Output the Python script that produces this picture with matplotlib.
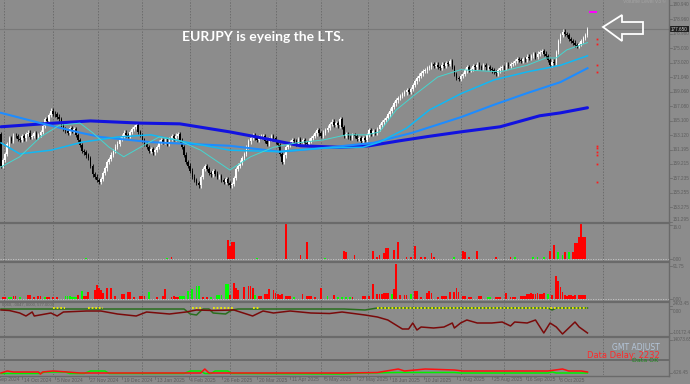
import numpy as np
import matplotlib
matplotlib.use("Agg")
import matplotlib.pyplot as plt
from matplotlib.lines import Line2D
from matplotlib.patches import Polygon
from matplotlib.transforms import blended_transform_factory as blend

W, H = 690, 384
BG = '#8c8c8c'
AXTXT = '#5e5e5e'

# ---------------- price data (daily closes) ----------------
first_open = 163.3
closes = [
    159.0, 159.8, 160.6, 161.9, 162.8, 162.4, 163.1, 163.0, 162.6, 162.5,
    163.0, 162.7, 163.3, 163.5, 162.9, 163.0, 163.4, 162.9, 163.2, 163.6,
    164.4, 165.3, 165.1, 165.9, 166.5, 166.1, 166.0, 165.7, 165.4, 164.6,
    164.0, 163.7, 163.5, 164.1, 163.8, 164.0, 163.2, 162.5, 161.8, 161.0,
    160.8, 160.4, 160.0, 158.9, 157.8, 157.5, 157.0, 156.8, 157.2, 158.0,
    158.6, 159.5, 159.9, 160.5, 161.0, 161.6, 162.0, 162.6, 163.0, 163.5,
    163.2, 163.0, 163.6, 164.0, 164.3, 164.5, 163.6, 163.2, 162.5, 162.0,
    161.5, 161.0, 161.3, 160.8, 161.1, 161.5, 162.2, 162.5, 162.2, 162.4,
    162.0, 162.6, 163.0, 162.7, 163.1, 163.3, 162.4, 161.5, 160.5, 159.5,
    159.0, 158.3, 157.5, 157.0, 156.6, 156.3, 157.4, 158.5, 158.9, 158.5,
    158.0, 157.8, 158.2, 157.9, 157.5, 157.6, 157.0, 156.8, 157.1, 156.6,
    156.3, 156.5, 157.3, 158.5, 159.0, 159.4, 160.0, 160.6, 161.5, 162.3,
    162.8, 163.2, 162.8, 162.5, 162.9, 163.0, 163.0, 162.4, 162.0, 162.6,
    163.0, 162.7, 162.2, 161.8, 160.6, 159.5, 160.4, 161.5, 161.8, 162.2,
    162.5, 162.3, 162.0, 162.6, 162.2, 162.5, 162.1, 162.0, 162.4, 162.8,
    163.0, 163.4, 163.8, 163.4, 163.0, 163.5, 163.9, 164.2, 164.7, 165.0,
    164.6, 164.8, 164.5, 165.3, 164.3, 163.0, 163.3, 162.9, 162.8, 163.2,
    163.0, 162.6, 162.8, 162.4, 162.7, 162.5, 163.2, 163.8, 163.4, 163.7,
    163.5, 164.0, 164.5, 164.9, 165.2, 165.5, 166.0, 166.5, 167.0, 167.5,
    167.9, 168.2, 168.5, 168.8, 169.0, 169.3, 169.1, 169.5, 170.0, 170.5,
    170.9, 171.3, 171.6, 171.9, 172.0, 172.3, 172.5, 172.9, 172.6, 172.8,
    172.5, 172.3, 172.8, 172.6, 173.0, 172.9, 173.3, 172.5, 171.5, 171.0,
    170.8, 171.2, 171.5, 172.0, 172.5, 172.1, 172.2, 172.6, 172.4, 172.8,
    172.5, 172.3, 172.7, 172.4, 172.5, 172.2, 172.0, 171.8, 171.6, 172.0,
    172.3, 172.5, 172.4, 172.8, 172.6, 172.9, 173.0, 173.3, 173.6, 173.4,
    173.3, 173.6, 173.5, 173.9, 173.7, 174.0, 174.2, 173.9, 174.3, 174.5,
    174.6, 174.3, 174.0, 173.4, 172.8, 173.2, 173.0, 174.5, 176.0, 176.8,
    177.3, 177.0, 176.8, 176.3, 176.0, 175.8, 175.5, 175.3, 175.6, 176.0,
    176.4, 176.8, 177.65,
]

# moving averages (bar index, value)
ma_fast_idx = [0, 9, 19, 28, 38, 44, 52, 59, 67, 76, 85, 96, 110, 120, 131, 142, 155, 166,
               176, 182, 190, 200, 210, 221, 240, 253, 262, 267, 272, 282]
ma_fast_val = [158.8, 160.2, 162.9, 164.5, 164.8, 163.5, 161.5, 160.2, 161.5, 162.9, 162.5,
               161.1, 158.4, 160.2, 161.5, 162.1, 162.5, 163.2, 163.2, 163.6, 166.6, 168.9,
               171.1, 172.1, 171.8, 172.7, 173.7, 173.7, 174.8, 175.8]
ma_mid_idx = [0, 9, 24, 39, 56, 72, 89, 110, 134, 155, 174, 182, 195, 206, 221, 237, 253, 269, 282]
ma_mid_val = [162.1, 160.6, 161.1, 162.2, 162.9, 163.2, 162.2, 161.1, 160.9, 161.4, 161.5,
              162.2, 164.1, 166.6, 168.8, 170.7, 171.8, 172.7, 174.0]
ma_slow_idx = [0, 19, 38, 48, 72, 110, 134, 155, 179, 198, 221, 237, 253, 269, 282]
ma_slow_val = [166.2, 164.8, 163.5, 162.9, 162.2, 161.7, 160.9, 161.4, 162.1, 163.5, 165.6,
               167.3, 168.9, 170.4, 172.3]
ma_long_idx = [0, 20, 43, 67, 86, 110, 125, 144, 163, 177, 192, 206, 221, 240, 259, 269, 282]
ma_long_val = [164.3, 164.7, 165.1, 164.8, 164.7, 163.6, 162.8, 161.7, 161.5, 161.7, 162.4,
               163.0, 163.6, 164.3, 165.8, 166.2, 166.9]

level_marks = [176.29, 175.61, 172.74, 171.78, 161.67, 161.4, 160.86, 160.45, 159.22, 156.76]
magenta_level = 179.98

price_ticks = [180.94, 178.96, 176.98, 175.0, 173.02, 171.04, 169.06, 167.08, 165.1, 163.12,
               161.195, 159.215, 157.235, 155.255, 153.275, 151.295]

# ---------------- sub window 1 histogram ----------------
v1_red_idx = [82, 109, 110, 111, 112, 137, 144, 147, 165, 166, 170, 179, 181, 182, 184, 185,
              186, 189, 191, 195, 197, 199, 202, 204, 207, 208, 222, 223, 225, 229, 238, 245,
              264, 266, 271, 275, 276, 277, 278, 279, 280, 281]
v1_red_val = [0.8, 8.9, 6.1, 8.0, 8.0, 16.4, 1.9, 8.0, 3.8, 3.3, 1.9, 3.8, 0.9, 1.9, 2.8, 5.2,
              5.2, 4.2, 8.0, 0.9, 0.9, 6.1, 0.9, 0.9, 2.8, 0.9, 3.8, 3.3, 0.9, 3.8, 0.9, 0.9,
              3.8, 6.6, 3.3, 3.3, 7.5, 7.5, 10.3, 16.9, 10.3, 10.3]
v1_grn_idx = [41, 80, 123, 156, 218, 247, 256, 258, 261, 268, 270, 273]
v1_grn_val = [0.5, 0.5, 0.5, 0.5, 0.9, 0.9, 0.9, 0.9, 0.9, 3.3, 1.9, 3.3]

# ---------------- sub window 2 histogram ----------------
v2_red_idx = [1, 2, 6, 7, 13, 14, 16, 18, 19, 22, 23, 25, 27, 37, 40, 41, 42, 45, 46, 47,
              48, 49, 51, 53, 55, 58, 59, 61, 62, 64, 67, 68, 69, 75, 78, 79, 82, 83, 84, 85,
              97, 99, 110, 112, 113, 114, 117, 119, 120, 121, 124, 125, 127, 128, 129, 131, 132,
              133, 134, 135, 137, 138, 139, 145, 147, 148, 149, 151, 154, 160,
              169, 174, 175, 177, 179, 181, 182, 183, 184, 185, 186, 189, 190, 192, 194, 195,
              199, 200, 202, 205, 206, 207, 210, 212, 213, 214, 216, 218, 219, 220, 222, 223,
              225, 226, 230, 231, 238, 239, 240, 243, 245, 246, 247, 250, 251, 252, 253, 254,
              255, 256, 257, 258, 259, 260, 261, 265, 267, 268, 269, 270, 271, 272, 273, 274,
              275, 276, 278, 279, 280, 281]
v2_red_val = [6.5, 6.5, 8.3, 8.3, 11, 11, 4.6, 8.3, 8.3, 6.5, 6.5, 4.6, 4.6, 10, 8.3, 8.3, 18.5,
              25, 39, 30, 25, 16, 30, 30, 8.3, 13, 13, 18.5, 18.5, 4.6, 8.3, 8.3, 8.3, 4.6, 8.3,
              29, 6.5, 8.3, 4.6, 6.5, 4.6, 4.6, 11, 45, 30, 25, 34, 37, 37, 30, 8.3, 8.3, 13, 13,
              28, 25, 16, 13, 11, 13, 8.3, 8.3, 8.3, 13, 9, 9, 9, 6.5, 31, 11,
              4.6, 8.3, 8.3, 8.3, 42, 14, 14, 14, 17.6, 17.6, 17.6, 28, 97, 11, 11, 11, 23, 23,
              6.5, 17.6, 23, 17.6, 4.6, 8.3, 8.3, 8.3, 20, 20, 30, 20, 9, 9, 6.5, 6.5, 8.3, 8.3,
              6.5, 6.5, 6.5, 17.6, 6.5, 6.5, 6.5, 8.3, 8.3, 8.3, 14, 14, 17.6, 14, 14, 17.6, 14,
              14, 17.6, 11, 64, 51, 34, 20, 11, 8.3, 11, 11, 8.3, 11, 11, 11, 11, 11]
v2_grn_idx = [4, 5, 9, 21, 31, 32, 33, 34, 35, 36, 39, 71, 86, 87, 88, 90, 92, 94, 95, 101,
              104, 105, 106, 108, 109, 122, 141, 157, 162, 164, 166, 168, 188, 197, 234, 235, 263]
v2_grn_val = [6.5, 6.5, 6.5, 4.6, 8.3, 8.3, 8.3, 4.6, 4.6, 4.6, 22, 18.5, 8.3, 8.3, 8.3, 22, 27,
              36, 36, 4.6, 11, 11, 11, 41, 41, 11, 4.6, 8.3, 6.5, 6.5, 6.5, 6.5, 14, 14, 4.6,
              4.6, 14]

# ---------------- sub window 3 lines ----------------
s3_red_idx = [0, 4, 9, 12, 15, 16, 24, 27, 30, 41, 48, 56, 65, 70, 81, 89, 94, 102, 112, 121,
              126, 131, 139, 149, 158, 164, 175, 181, 186, 193, 196, 198, 200, 202, 208, 213,
              217, 218, 221, 224, 229, 236, 241, 245, 247, 253, 257, 261, 264, 267, 270, 273,
              276, 278, 282]
s3_red_val = [540, 307, -858, -2255, -392, -2255, -858, -2255, -392, 74, 74, -1323, -2255, -392,
              -1323, -392, 540, 307, 540, -2255, 74, -858, 74, -858, -1090, -392, -1789, -2721,
              -4118, -8310, -8310, -5515, -8776, -7379, -7845, -7379, -5515, -7845, -5515, -4118,
              -5515, -5515, -5050, -6913, -5050, -5515, -4118, -10172, -5515, -7379, -10639,
              -7845, -5050, -7379, -10172]
s3_grn_idx = [0, 88, 91, 94, 97, 100, 102, 108, 111, 114, 165, 175, 181, 263, 265, 267, 282]
s3_grn_val = [1006, 1006, -1323, -1789, 1006, 1006, -858, -1323, 540, 1006, 1006, 540, 1472,
              1472, 540, 1472, 1472]
s3_dot_start = [25, 42, 92, 102, 121, 181]
s3_dot_end = [31, 49, 97, 112, 124, 282]
s3_dot_level = 1472

# ---------------- sub window 4 lines ----------------
s4_red_idx = [0, 3, 6, 18, 19, 20, 25, 32, 38, 96, 98, 100, 165, 181, 191, 194, 204, 218, 222,
              242, 263, 270, 273, 279, 282]
s4_red_val = [-626, 263, -183, -183, -1073, -183, 263, -183, -626, -626, 1154, -626, -626, -405,
              1154, 263, 1154, 708, 263, 263, 263, 1154, 263, 263, -183]
s4_grn_idx = [0, 19, 21, 31, 33, 40, 43, 50, 52, 88, 91, 96, 98, 101, 103, 109, 111, 165, 174,
              191, 218, 221, 263, 265, 267, 282]
s4_grn_val = [-850, -850, -183, -183, -850, -850, 263, 263, -850, -850, 263, 263, -850, -850,
              263, 263, -850, -1073, -626, -405, -405, -626, -626, -183, -626, -626]

# month grid and date labels (bar index)
month_idx = [1.5, 25, 46.5, 68, 91, 110, 132, 154, 176.5, 198, 221, 242, 264, 289.5]
date_idx = [-5, 11, 27, 43, 59, 75, 91, 107, 124, 140, 156, 172, 188, 204, 220, 237, 253, 269]
date_lbl = ['22 Sep 2024', '14 Oct 2024', '5 Nov 2024', '27 Nov 2024', '19 Dec 2024',
            '13 Jan 2025', '4 Feb 2025', '26 Feb 2025', '20 Mar 2025', '11 Apr 2025',
            '5 May 2025', '27 May 2025', '18 Jun 2025', '10 Jul 2025', '1 Aug 2025',
            '25 Aug 2025', '16 Sep 2025', '8 Oct 2025']


# ---------------- figure ----------------
def frect(x0, y0, x1, y1):
    return [x0 / W, 1 - y1 / H, (x1 - x0) / W, (y1 - y0) / H]


def fy(y):
    return 1 - y / H


SMALL = dict(family='Liberation Sans', color=AXTXT)

fig = plt.figure(figsize=(W / 100, H / 100), dpi=100)
fig.patch.set_facecolor(BG)

XLIM = (-0.48, 321.2)
ax = fig.add_axes(frect(0, 0, 669, 222))
ax1 = fig.add_axes(frect(0, 223, 669, 261))
ax2 = fig.add_axes(frect(0, 263, 669, 301))
ax3 = fig.add_axes(frect(0, 303, 669, 336))
ax4 = fig.add_axes(frect(0, 338, 669, 375))
for a, yl in [(ax, (151.29, 181.62)), (ax1, (-0.94, 16.94)), (ax2, (-5.56, 100.1)),
              (ax3, (-11570, 3800.85)), (ax4, (-1519, 14964.65))]:
    a.set_xlim(*XLIM)
    a.set_ylim(*yl)
    a.axis('off')
    a.patch.set_alpha(0)
    for m in month_idx:
        a.axvline(m, color='#6c6c6c', lw=0.7, ls=(0, (1.5, 1.5)), zorder=0)

# candles
c = np.array(closes)
o = np.array([first_open] + closes[:-1])
idx = np.arange(len(c))
up = c >= o
lo = np.minimum(o, c)
body = np.maximum(np.abs(c - o), 0.08)
wick = 0.3
ax.vlines(idx[up], lo[up] - wick, lo[up] + body[up] + wick, colors='white', lw=0.6, zorder=2)
ax.vlines(idx[~up], lo[~up] - wick, lo[~up] + body[~up] + wick, colors='black', lw=0.6, zorder=2)
ax.bar(idx[up], body[up], bottom=lo[up], width=0.75, color='white', lw=0, zorder=3)
ax.bar(idx[~up], body[~up], bottom=lo[~up], width=0.75, color='black', lw=0, zorder=3)

# bid line
ax.axhline(closes[-1], color='#787878', lw=0.8, zorder=1)

# moving averages
ax.plot(ma_long_idx, ma_long_val, color='#1212e0', lw=2.2, zorder=5, solid_capstyle='round')
ax.plot(ma_slow_idx, ma_slow_val, color='#1e8cff', lw=1.5, zorder=5)
ax.plot(ma_mid_idx, ma_mid_val, color='#10b8f5', lw=1.1, zorder=5)
ax.plot(ma_fast_idx, ma_fast_val, color='#45d6d0', lw=0.7, zorder=5)

ax.hlines(magenta_level, 282.5, 286.5, color='#ff00ff', lw=1.4)
ax.plot([286.5] * len(level_marks), level_marks, 's', ms=1.3, color='#ff1a1a', mec='none')

ax.text(263.5 / W, fy(37), 'EURJPY is eyeing the LTS.', transform=fig.transFigure,
        ha='center', va='center', color='white', fontsize=10, fontweight='bold',
        family='Lato')

# arrow outline
arrow = [(603, 27), (622, 15), (622, 22), (643, 22), (643, 34), (622, 34), (622, 41)]
fig.add_artist(Polygon([(x / W, fy(y)) for x, y in arrow], closed=True, fill=False,
                       ec='white', lw=1.3, transform=fig.transFigure))
fig.text(666 / W, fy(1.5), 'Volume Level V3 \u00a9', ha='right', va='center', fontsize=3.6,
         color='#a4a4a4', family='Liberation Sans')

# sub window 1
ax1.bar(v1_red_idx, v1_red_val, width=0.9, color='#ff0000', lw=0)
ax1.bar(v1_grn_idx, v1_grn_val, width=0.9, color='#00ff00', lw=0)
ax1.axhline(0, color='#c8c8c8', lw=0.6, ls=(0, (1.5, 1.5)))

# sub window 2
ax2.bar(v2_red_idx, v2_red_val, width=0.9, color='#ff0000', lw=0)
ax2.bar(v2_grn_idx, v2_grn_val, width=0.9, color='#00ff00', lw=0)
ax2.axhline(0, color='#c8c8c8', lw=0.6, ls=(0, (1.5, 1.5)))

# sub window 3
ax3.plot(s3_grn_idx, s3_grn_val, color='#2a6e1e', lw=1.1)
ax3.plot(s3_red_idx, s3_red_val, color='#7a0a0a', lw=1.1)
ax3.hlines([s3_dot_level] * len(s3_dot_start), s3_dot_start, s3_dot_end, color='#f0f000',
           lw=1.3, ls=(0, (1, 1)))
ax3.text(0.003, 1.0, '0060, -0047, 0000, 577.0000', transform=ax3.transAxes, fontsize=3,
         va='top', ha='left', **SMALL)

# sub window 4
ax4.plot(s4_grn_idx, s4_grn_val, color='#00ee00', lw=1.1)
ax4.plot(s4_red_idx, s4_red_val, color='#ff1010', lw=1.1)
fig.text(660 / W, fy(347), 'GMT ADJUST', ha='right', va='center', fontsize=5.5,
         color='#b4c6da', family='DejaVu Sans')
fig.text(660 / W, fy(355), 'Data Delay: 2232', ha='right', va='center', fontsize=6,
         color='#ff2a2a', family='DejaVu Sans')
fig.text(658 / W, fy(360.5), 'Data OK', ha='right', va='center', fontsize=4.6,
         color='#1e8a1e', family='DejaVu Sans')

# window separators, right axis
for y, lw in [(222.5, 1.6), (261.8, 1.6), (302, 1.6), (336.6, 1.6), (359.5, 1.4), (375.5, 1.0)]:
    fig.add_artist(Line2D([0, 669 / W], [fy(y), fy(y)], color='#6a6a6a', lw=lw,
                          transform=fig.transFigure))
fig.add_artist(Line2D([669 / W, 669 / W], [fy(0), fy(375.5)], color='#6a6a6a', lw=1.0,
                      transform=fig.transFigure))


# right scale labels
def rlabels(a, vals, texts, vas=None):
    tr = blend(fig.transFigure, a.transData)
    vas = vas or ['center'] * len(vals)
    for v, t, va in zip(vals, texts, vas):
        a.plot([669 / W, 671.5 / W], [v, v], color='#666666', lw=0.5, transform=tr,
               clip_on=False)
        a.text(672.5 / W, v, t, transform=tr, fontsize=3.3, va=va, ha='left',
               clip_on=False, **SMALL)


rlabels(ax, price_ticks, ['%.3f' % v for v in price_ticks],
        ['center'] * (len(price_ticks) - 1) + ['bottom'])
rlabels(ax1, [16.0, 0], ['16.0', '0.00'], ['top', 'center'])
rlabels(ax2, [91.75, 0], ['91.75', '0.00'])
rlabels(ax3, [2403.45, 1006, -10172.4], ['2403.45', '0.00', '-10172.4'],
        ['bottom', 'top', 'center'])
rlabels(ax4, [14073.65, -626.45], ['14073.65', '-626.45'])
tr = blend(fig.transFigure, ax.transData)
ax.text(671 / W, closes[-1], '%.3f' % closes[-1], transform=tr, fontsize=3.3, color='#d0d0d0',
        va='center', ha='left', clip_on=False, family='Liberation Sans',
        bbox=dict(boxstyle='square,pad=0.2', fc='#202020', ec='none'))

# date axis
trd = blend(ax.transData, fig.transFigure)
for i, t in zip(date_idx, date_lbl):
    ax.plot([i - 0.8, i - 0.8], [fy(375.5), fy(379)], color='#666666', lw=0.5, transform=trd,
            clip_on=False)
    ax.text(i, fy(380), t, transform=trd, fontsize=3.6, va='center', ha='left',
            clip_on=False, **SMALL)

fig.savefig('out.png', dpi=100, facecolor=BG)
